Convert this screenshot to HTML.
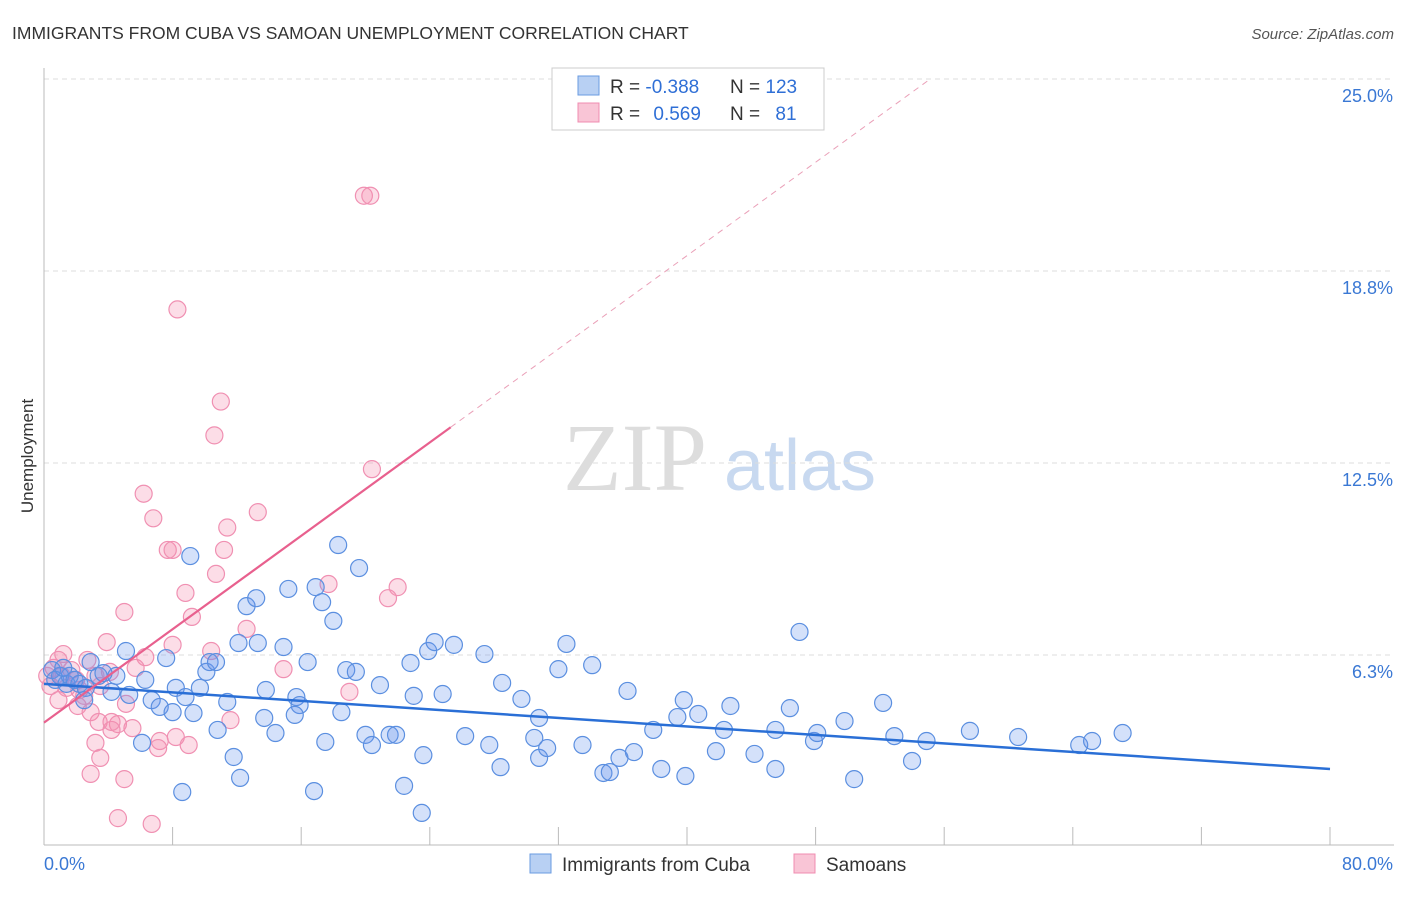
<!DOCTYPE html>
<html><head><meta charset="utf-8"><style>
body{margin:0;background:#fff;font-family:"Liberation Sans",sans-serif;}
</style></head><body>
<svg id="chart" width="1406" height="892" xmlns="http://www.w3.org/2000/svg">
<text x="12" y="39" font-size="17.5" fill="#333">IMMIGRANTS FROM CUBA VS SAMOAN UNEMPLOYMENT CORRELATION CHART</text>
<text x="1394" y="39" font-size="15" fill="#555" font-style="italic" text-anchor="end">Source: ZipAtlas.com</text>
<text x="635" y="490" font-size="96" fill="#ddd" font-family="Liberation Serif,serif" text-anchor="middle">ZIP</text>
<text x="800" y="490" font-size="72" fill="#c8d9f0" text-anchor="middle">atlas</text>
<text transform="translate(33,456) rotate(-90)" font-size="17" fill="#333" text-anchor="middle">Unemployment</text>
<g id="grid"></g><g id="axes"></g><g id="pts"></g><g id="lines"></g>
<g>
<rect x="552" y="68" width="272" height="62" fill="#fff" stroke="#ccc"/>
<rect x="578" y="76" width="21" height="19" fill="#b8d0f3" stroke="#6a9be0"/>
<rect x="578" y="103" width="21" height="19" fill="#f9c5d6" stroke="#f08cb0"/>
<text x="610" y="93" font-size="19" fill="#333">R = <tspan fill="#2f6fd6">-0.388</tspan></text>
<text x="730" y="93" font-size="19" fill="#333">N = <tspan fill="#2f6fd6">123</tspan></text>
<text x="610" y="120" font-size="19" fill="#333">R = <tspan fill="#2f6fd6" dx="8">0.569</tspan></text>
<text x="730" y="120" font-size="19" fill="#333">N = <tspan fill="#2f6fd6" dx="10">81</tspan></text>
</g>
<g>
<rect x="530" y="854" width="21" height="19" fill="#b8d0f3" stroke="#6a9be0"/>
<text x="562" y="871" font-size="19" fill="#333">Immigrants from Cuba</text>
<rect x="794" y="854" width="21" height="19" fill="#f9c5d6" stroke="#f08cb0"/>
<text x="826" y="871" font-size="19" fill="#333">Samoans</text>
</g>
</svg>
<script>
const yTicks=[25,18.75,12.5,6.25];
const yTickLabels=["25.0%","18.8%","12.5%","6.3%"];
const xTickVals=[0,8,16,24,32,40,48,56,64,72,80];
const cubaX=[9.1,7.6,5.1,2.9,3.4,4.5,4.2,5.3,6.3,6.7,7.2,8.0,8.2,8.8,9.3,9.7,10.1,10.3,10.7,11.4,10.8,11.8,12.2,8.6,6.1,12.1,12.6,13.2,13.3,13.8,13.7,14.4,15.2,14.9,15.7,15.9,15.6,16.4,16.9,17.3,18.0,18.3,16.8,17.5,18.5,18.8,19.4,19.6,20.0,20.4,20.9,21.5,21.9,22.4,22.8,23.0,23.5,23.6,23.9,24.3,24.8,25.5,26.2,27.4,27.7,28.4,28.5,29.7,30.5,30.8,30.8,31.3,32.0,32.5,33.5,34.1,34.8,35.2,35.8,36.3,36.7,37.9,38.4,39.4,39.8,39.9,40.7,41.8,42.3,42.7,44.2,45.5,45.5,46.4,47.0,47.9,48.1,49.8,50.4,52.2,52.9,54.0,54.9,57.6,60.6,64.4,65.2,67.1,0.5,0.7,1.0,1.4,1.6,1.9,2.2,2.6,1.2,3.7,2.5];
const cubaY=[9.47,6.15,6.38,6.02,5.57,5.57,5.05,4.95,5.44,4.78,4.56,4.39,5.18,4.88,4.36,5.18,5.70,6.02,6.02,4.72,3.81,2.93,2.25,1.79,3.39,6.64,7.84,8.10,6.64,5.11,4.20,3.71,8.40,6.51,4.88,4.62,4.30,6.02,8.46,7.97,7.36,9.83,1.82,3.42,4.39,5.76,5.70,9.08,3.65,3.32,5.27,3.65,3.65,1.99,5.99,4.92,1.11,2.99,6.38,6.67,4.98,6.58,3.61,6.28,3.32,2.60,5.34,4.82,3.55,4.20,2.90,3.22,5.79,6.61,3.32,5.92,2.41,2.44,2.90,5.08,3.09,3.81,2.54,4.23,4.78,2.31,4.33,3.12,3.81,4.59,3.03,3.81,2.54,4.52,7.00,3.45,3.71,4.10,2.21,4.69,3.61,2.80,3.45,3.78,3.58,3.32,3.45,3.71,5.76,5.44,5.57,5.31,5.57,5.44,5.31,5.18,5.83,5.66,4.78];
const samX=[19.9,20.3,8.3,11.0,10.6,20.4,6.2,6.8,13.3,11.4,7.7,8.0,11.2,10.7,17.7,22.0,21.4,8.8,5.0,9.2,12.6,3.9,8.0,10.4,6.3,1.2,2.7,5.7,14.9,19.0,0.6,0.9,0.2,1.7,2.0,0.4,3.2,3.5,4.1,0.9,2.1,2.5,2.9,3.4,4.6,4.2,5.1,5.5,4.2,3.2,3.5,2.9,5.0,4.6,6.7,7.2,7.1,8.2,9.0,11.6,1.4,1.1,2.2];
const samY=[21.2,21.2,17.5,14.5,13.4,12.3,11.5,10.7,10.9,10.4,9.67,9.67,9.67,8.89,8.56,8.46,8.10,8.27,7.65,7.49,7.10,6.67,6.58,6.38,6.18,6.28,6.09,5.83,5.79,5.05,5.83,6.09,5.57,5.76,5.44,5.24,5.57,5.24,5.70,4.78,4.59,4.92,4.39,4.07,4.00,3.81,4.66,3.87,4.07,3.39,2.90,2.38,2.21,0.94,0.75,3.45,3.22,3.58,3.32,4.13,5.18,5.57,5.11];
const cubaTrend=[5.31,2.54]; // values at x=0 and x=80
const samTrend=[4.05,0.38]; // intercept, slope
const samSolidEnd=25.3;
const NS="http://www.w3.org/2000/svg";
const X=v=>44+v/80*1286, Y=v=>847-v/6.25*192;
function mk(tag,attrs,parent){const e=document.createElementNS(NS,tag);for(const k in attrs)e.setAttribute(k,attrs[k]);parent.appendChild(e);return e;}
const grid=document.getElementById('grid'),axes=document.getElementById('axes'),pts=document.getElementById('pts'),lines=document.getElementById('lines');
yTicks.forEach((t,i)=>{
 const l=mk('line',{x1:44,x2:1394,y1:Y(t),y2:Y(t),stroke:'#ddd','stroke-dasharray':'5,4'},grid);
 
 
 const tx=mk('text',{x:1393,y:Y(t)+23,'font-size':18,fill:'#3a78d4','text-anchor':'end'},axes);
 tx.textContent=yTickLabels[i];
 
 
});
let a=mk('line',{x1:44,x2:44,y1:68,y2:845,stroke:'#bbb'},axes);


a=mk('line',{x1:44,x2:1394,y1:845,y2:845,stroke:'#bbb'},axes);


xTickVals.forEach(v=>{const t=mk('line',{x1:X(v),x2:X(v),y1:827,y2:845,stroke:'#bbb'},axes);
 
 });
let t=mk('text',{x:44,y:870,'font-size':18,fill:'#3a78d4'},axes);t.textContent='0.0%';


t=mk('text',{x:1393,y:870,'font-size':18,fill:'#3a78d4','text-anchor':'end'},axes);t.textContent='80.0%';


samX.forEach((v,i)=>{const c=mk('circle',{cx:X(v),cy:Y(samY[i]),r:8.5,fill:'rgba(244,143,177,0.3)',stroke:'#f090b2','stroke-width':1.2},pts);
 
 });
cubaX.forEach((v,i)=>{const c=mk('circle',{cx:X(v),cy:Y(cubaY[i]),r:8.5,fill:'rgba(100,149,237,0.28)',stroke:'#5b8fe0','stroke-width':1.2},pts);
 
 });
let l=mk('line',{x1:X(0),y1:Y(cubaTrend[0]),x2:X(80),y2:Y(cubaTrend[1]),stroke:'#2a6fd6','stroke-width':2.5},lines);


l=mk('line',{x1:X(0),y1:Y(samTrend[0]),x2:X(samSolidEnd),y2:Y(samTrend[0]+samTrend[1]*samSolidEnd),stroke:'#e8608e','stroke-width':2.2},lines);


const xEnd=(25-samTrend[0])/samTrend[1];
l=mk('line',{x1:X(samSolidEnd),y1:Y(samTrend[0]+samTrend[1]*samSolidEnd),x2:X(xEnd),y2:Y(25),stroke:'#eaa0b8','stroke-width':1,'stroke-dasharray':'6,5'},lines);


</script>
</body></html>
